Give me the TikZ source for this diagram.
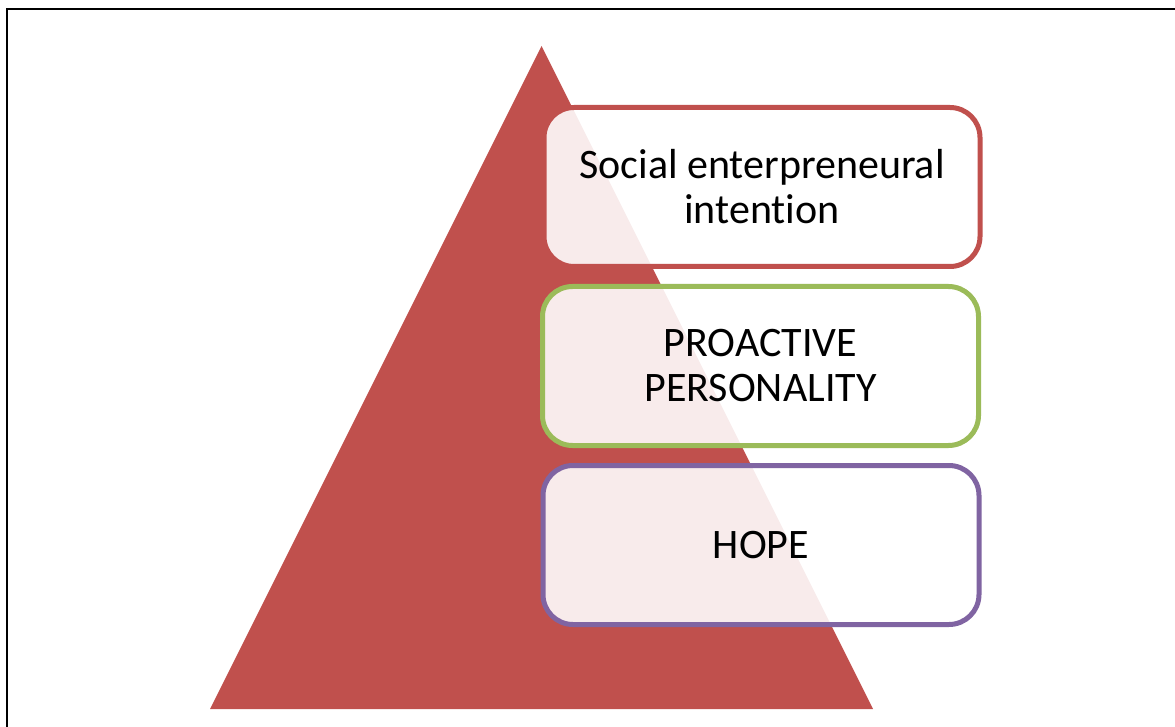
\documentclass[tikz,border=0pt]{standalone}
\usepackage{fontspec}
\setmainfont{Carlito}[Ligatures=NoCommon]
\definecolor{tri}{RGB}{192,80,77}
\definecolor{gr}{RGB}{155,187,89}
\definecolor{pu}{RGB}{128,100,162}
\begin{document}
\begin{tikzpicture}[x=1pt,y=-1pt,
  levelbox/.style={rounded corners=30pt, line width=5pt, fill=white, fill opacity=0.89, text opacity=1,
    minimum width=436pt, minimum height=159pt, align=center, inner sep=0pt,
    font=\fontsize{42}{45}\selectfont}]
\useasboundingbox (0,0) rectangle (1175,727);
\clip (0,0) rectangle (1175,727);
\draw[line width=2pt] (6.5,735) -- (6.5,9.5) -- (1185,9.5);
\fill[tri] (541.5,46) -- (873,709) -- (210,709) -- cycle;
\node[levelbox, draw=tri] (soc) at (762,187) {Social enterpreneural\\intention};
\node[levelbox, draw=gr] (pro) at (760.5,366) {PROACTIVE\\PERSONALITY};
\node[levelbox, draw=pu] (hope) at (761,545) {HOPE};
\end{tikzpicture}
\end{document}
